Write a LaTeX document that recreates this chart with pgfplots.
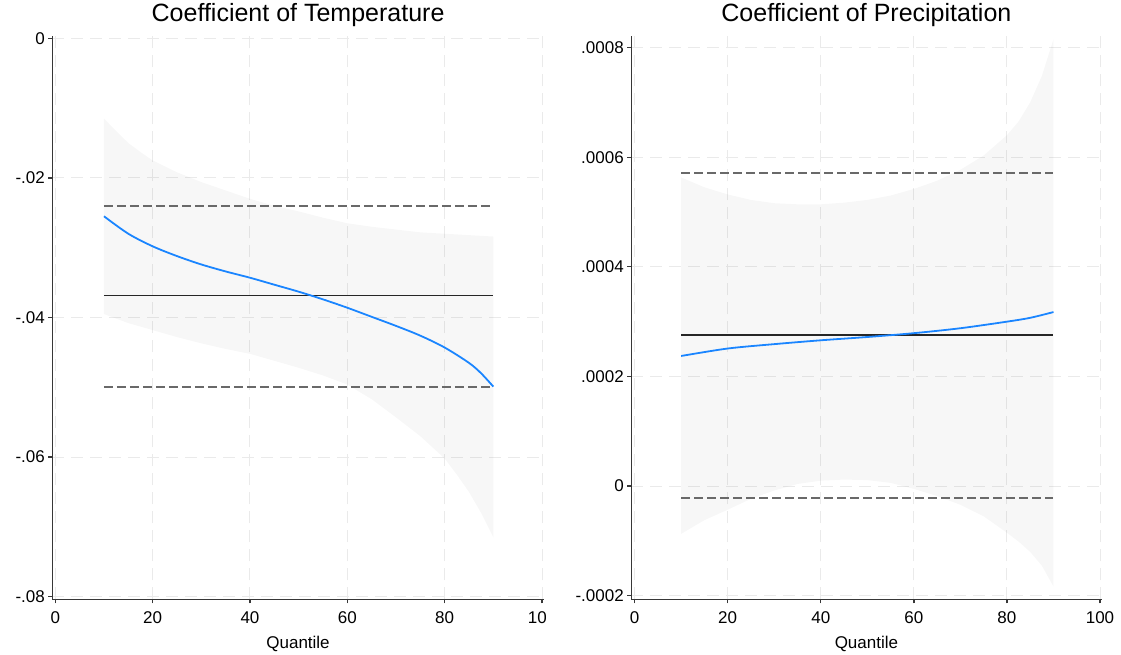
\documentclass[border=0pt]{standalone}
\usepackage{fontspec}
\setmainfont{Liberation Sans}
\usepackage{pgfplots}
\pgfplotsset{compat=1.18}
\definecolor{stblue}{RGB}{26,133,255}
\definecolor{gridc}{RGB}{234,234,234}
\definecolor{dashc}{RGB}{105,105,105}
\definecolor{axc}{RGB}{55,55,55}
\pgfplotsset{
  stata/.style={
    scale only axis,
    anchor=south west,
    axis x line*=bottom, axis y line*=left,
    axis line style={-, color=axc, line width=1.5pt},
    tick style={color=axc, line width=1.3pt},
    tick align=outside,
    major tick length=4pt,
    grid=major,
    major grid style={color=gridc, line width=1pt, dash pattern=on 12pt off 7pt},
    scaled x ticks=false, scaled y ticks=false,
    xtick={0,20,40,60,80,100},
    xticklabels={0,20,40,60,80,100},
    ticklabel style={font=\fontsize{17}{20}\selectfont},
    xticklabel style={yshift=-5pt},
    title style={at={(0.5,1)}, anchor=base, yshift=8.3pt, font=\fontsize{25}{30}\selectfont},
    xlabel style={at={(axis description cs:0.5,0)}, anchor=base, yshift=-48.7pt, font=\fontsize{17}{20}\selectfont},
    xlabel={Quantile},
    clip=true,
  },
  band/.style={draw=none, fill=black, fill opacity=0.03},
  ols/.style={color=black!85, line width=1.8pt},
  cib/.style={color=dashc, line width=1.9pt, dash pattern=on 9pt off 4pt},
  qr/.style={color=stblue, line width=1.8pt, smooth},
}
\begin{document}
\begin{tikzpicture}
\useasboundingbox (0,0) rectangle (1121pt,-655pt);
\begin{scope}
\clip (0,0) rectangle (545.5pt,-655pt);
\begin{axis}[stata,
  at={(52.4pt,-599.3pt)},
  width=491.3pt, height=563.3pt,
  xmin=-0.6, xmax=100.35,
  ymin=-0.08037, ymax=0.00033,
  ytick={-0.08,-0.06,-0.04,-0.02,0},
  yticklabels={-.08,-.06,-.04,-.02,0},
  title={Coefficient of Temperature},
]
\addplot[band] coordinates {
 (10,-0.0115) (12.5,-0.0133) (15,-0.0150) (17.5,-0.0163) (20,-0.0175) (25,-0.0192) (30,-0.0206) (35,-0.0218)
 (40,-0.0230) (45,-0.0240) (50,-0.0248) (55,-0.0257) (60,-0.0265) (65,-0.0270)
 (70,-0.0274) (75,-0.0278) (80,-0.0280) (85,-0.0282) (90,-0.0284)
 (90,-0.0715) (87.5,-0.0680) (85,-0.0650) (82.5,-0.0625) (80,-0.0602) (75,-0.0570) (70,-0.0543)
 (65,-0.0517) (60,-0.0496) (55,-0.0483) (50,-0.0472) (45,-0.0462) (40,-0.0452)
 (35,-0.0445) (30,-0.0437) (25,-0.0428) (20,-0.0418) (15,-0.0408) (10,-0.0395)
} -- cycle;
\addplot[cib] coordinates {(10,-0.0240) (90,-0.0240)};
\addplot[cib] coordinates {(10,-0.0499) (90,-0.0499)};
\addplot[ols] coordinates {(10,-0.03685) (90,-0.03685)};
\addplot[qr] coordinates {
 (10,-0.0255) (15,-0.0280) (20,-0.0298) (25,-0.0312) (30,-0.0324) (35,-0.0334)
 (40,-0.0343) (45,-0.0353) (50,-0.0363) (55,-0.0374) (60,-0.0386) (65,-0.0399)
 (70,-0.0412) (75,-0.0426) (80,-0.0443) (85,-0.0465) (87.5,-0.0480) (90,-0.0499)
};
\end{axis}
\end{scope}
\begin{axis}[stata,
  at={(631.3pt,-599.3pt)},
  width=470.2pt, height=563.3pt,
  xmin=-0.71, xmax=100.32,
  ymin=-0.0002064, ymax=0.000821,
  ytick={-0.0002,0,0.0002,0.0004,0.0006,0.0008},
  yticklabels={-.0002,0,.0002,.0004,.0006,.0008},
  title={Coefficient of Precipitation},
]
\addplot[band] coordinates {
 (10,0.000563) (15,0.000545) (20,0.000532) (25,0.000522) (30,0.000516) (35,0.000514)
 (40,0.000514) (45,0.000517) (50,0.000522) (55,0.000530) (60,0.000542) (65,0.000557)
 (70,0.000577) (75,0.000603) (80,0.000640) (82.5,0.000665) (85,0.000700) (87.5,0.000748) (90,0.000815)
 (90,-0.000183) (87.5,-0.000145) (85,-0.000120) (82.5,-0.000101) (80,-0.000085) (75,-0.000055) (70,-0.000034)
 (65,-0.000018) (60,-0.000005) (55,0.000006) (50,0.000011) (45,0.000012) (40,0.000010)
 (35,0.000004) (30,-0.000008) (25,-0.000023) (20,-0.000043) (15,-0.000062) (10,-0.000087)
} -- cycle;
\addplot[cib] coordinates {(10,0.0005707) (90,0.0005707)};
\addplot[cib] coordinates {(10,-0.0000219) (90,-0.0000219)};
\addplot[ols] coordinates {(10,0.000275) (90,0.000275)};
\addplot[qr] coordinates {
 (10,0.0002374) (20,0.000251) (30,0.000259) (40,0.000266) (50,0.000272)
 (60,0.000279) (70,0.000288) (80,0.000300) (85,0.000307) (90,0.0003175)
};
\end{axis}
\end{tikzpicture}
\end{document}
